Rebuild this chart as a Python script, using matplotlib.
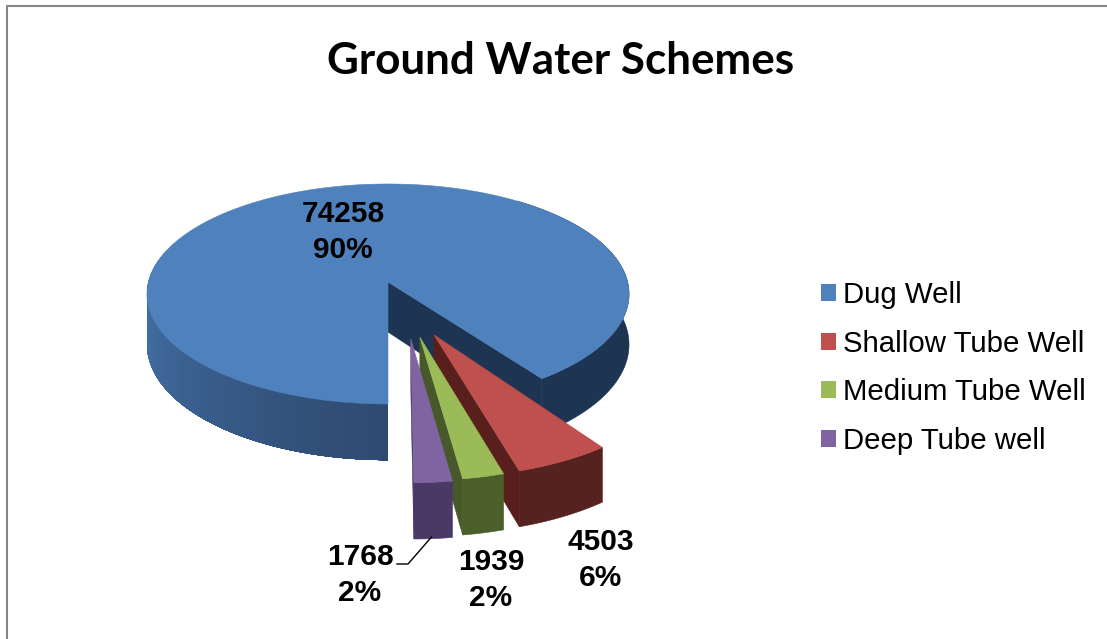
import numpy as np
import matplotlib
matplotlib.use("Agg")
import matplotlib.pyplot as plt
from matplotlib.patches import Polygon, Patch

categories = ["Dug Well", "Shallow Tube Well", "Medium Tube Well", "Deep Tube well"]
values = [74258, 4503, 1939, 1768]
percent_labels = ["90%", "6%", "2%", "2%"]
title = "Ground Water Schemes"

top_colors = ["#4f81bd", "#c0504d", "#9bbb59", "#8064a2"]
wall_colors = ["#1d3453", "#591f1c", "#47592a", "#4a3866"]
outer_colors = ["#1d3453", "#55221f", "#4b5f2a", "#4a3866"]
explode = [(0, 0), (0.182, 0.462), (0.126, 0.481), (0.09, 0.496)]
stretch = [1.0, 1.04, 1.04, 1.04]
depths = [50, 47, 47, 47]
label_pos = [(343, 232), (601, 560), (491, 580), (360, 575)]

AX, AY, R, RY, K = 388, 282, 239.6, 108.7, 0.109


def proj(theta, rad, i, drop=False):
    off = explode[i]
    X = rad * np.sin(theta) + off[0]
    Y = -rad * np.cos(theta) * stretch[i] + off[1]
    s = 1 / (1 - K * Y)
    return (AX + R * X * s, AY + RY * Y * s + (depths[i] * s if drop else 0))


def arc(a0, a1, i, drop=False, n=80):
    return [proj(t, 1, i, drop) for t in np.linspace(a0, a1, n)]


def mix(c1, c2, f):
    a, b = matplotlib.colors.to_rgb(c1), matplotlib.colors.to_rgb(c2)
    return tuple(x + (y - x) * f for x, y in zip(a, b))


fig = plt.figure(figsize=(11.07, 6.39), dpi=100)
ax = fig.add_axes([0, 0, 1, 1])
ax.set_xlim(0, 1107)
ax.set_ylim(639, 0)
ax.axis("off")

# chart frame
ax.plot([6.5, 6.5, 1107], [639, 5.5, 5.5], color="#868686", lw=1.5, solid_joinstyle="miter")

total = sum(values)
edges = np.radians(180 + np.cumsum([0] + values) / total * 360)


def poly(pts, color, z, ec=True):
    ax.add_patch(Polygon(pts, closed=True, fc=color, ec=color if ec else "none",
                         lw=0.4 if ec else 0, zorder=z))


# first slice: shaded outer wall drawn from the left towards the front, overlapping
a0, a1 = edges[0], edges[1]
steps = np.linspace(3 * np.pi / 2 + 0.3, np.pi, 70)
for t0 in steps[:-1]:
    f = (t0 - np.pi) / (np.pi / 2 + 0.3)
    c = mix("#2e4a70", "#4a7bb5", f ** 1.1)
    poly([proj(t0, 1, 0), proj(np.pi, 1, 0), proj(np.pi, 1, 0, True)] + arc(np.pi, t0, 0, True, 30)
         + arc(t0, np.pi, 0, False, 30), c, 2, ec=False)
right = np.linspace(2.2 * np.pi, a1, 40)
poly(arc(right[0], right[-1], 0) + arc(right[-1], right[0], 0, True), outer_colors[0], 2)
poly([proj(0, 0, 0), proj(0, 0, 0, True), proj(a1, 1, 0, True), proj(a1, 1, 0)], wall_colors[0], 2)
poly([proj(0, 0, 0)] + arc(a0, a1, 0, n=400), top_colors[0], 3)

# exploded slices, back to front
for i in (1, 2, 3):
    a0, a1 = edges[i], edges[i + 1]
    z = 3 + i * 2
    poly([proj(0, 0, i), proj(0, 0, i, True), proj(a1, 1, i, True), proj(a1, 1, i)], wall_colors[i], z)
    poly(arc(a0, a1, i) + arc(a1, a0, i, True), outer_colors[i], z)
    poly([proj(0, 0, i)] + arc(a0, a1, i), top_colors[i], z + 1)

# data labels
for v, p, pos in zip(values, percent_labels, label_pos):
    ax.text(pos[0], pos[1], f"{v}\n{p}", ha="center", va="center", family="Liberation Sans",
            weight="bold", fontsize=21.5, linespacing=1.32, color="black", zorder=20)
ax.plot([397, 408, 431.5], [564, 564, 537], color="black", lw=1.0, zorder=19)

ax.text(561, 61, title, ha="center", va="center", family="Lato", weight="bold",
        fontsize=31.7, color="black")

handles = [Patch(fc=c, ec="none") for c in top_colors]
ax.legend(handles, categories, loc="upper left", bbox_to_anchor=(821 / 1107, 1 - 281 / 639),
          frameon=False, prop={"family": "Liberation Sans", "size": 21.2},
          handlelength=0.51, handleheight=0.51, handletextpad=0.24, labelspacing=0.70,
          borderpad=0, borderaxespad=0)

fig.savefig("out.png", dpi=100)
